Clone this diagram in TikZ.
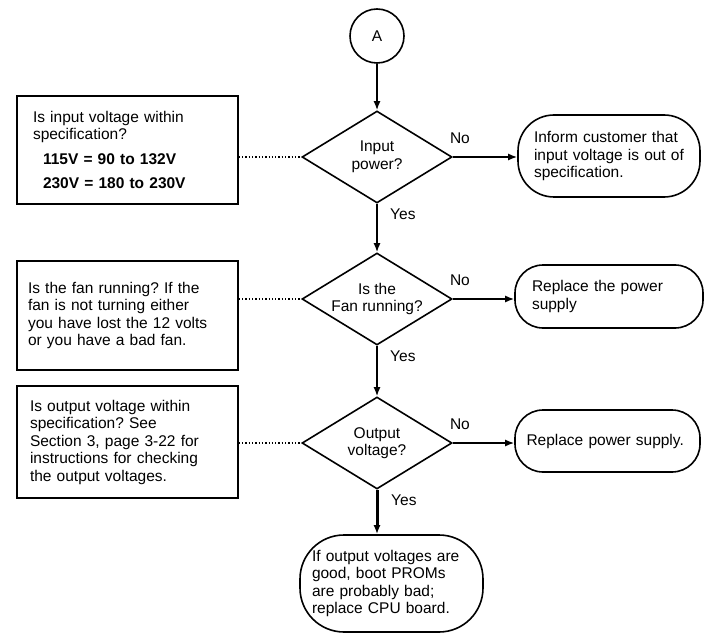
\documentclass[tikz,border=0pt]{standalone}
\usepackage{fontspec}
\setmainfont{Liberation Sans}
\usetikzlibrary{shapes.geometric,arrows.meta}

\begin{document}
\begin{tikzpicture}[
    x=1pt, y=-1pt,
    every node/.style={font=\fontsize{15.5}{17.5}\selectfont\frenchspacing},
    connector/.style={draw, circle, line width=1.6pt, minimum size=54pt,
                      inner sep=0pt},
    decision/.style={draw, diamond, line width=1.6pt, aspect=1.63,
                     inner sep=0pt, minimum width=150pt, minimum height=92pt,
                     align=center},
    notebox/.style={draw, rectangle, line width=1.6pt, minimum width=221pt,
                    inner xsep=0pt, align=left},
    actionbox/.style={draw, rectangle, line width=1.6pt, rounded corners=#1,
                      inner xsep=0pt, align=left},
    actionbox/.default=28pt,
    flow/.style={line width=1.6pt, -{Latex[length=9pt,width=7pt]}},
    hint/.style={line width=1.3pt, dotted},
    lbl/.style={inner sep=0pt},
]

\useasboundingbox (0,0) rectangle (704,639);

\def\mx{377}   % main column
\def\nx{127.5} % note column

% ================================================================
% CONNECTOR A
% ================================================================
\node[connector] (A) at (\mx, 36) {A};

% ================================================================
% DECISIONS
% ================================================================
\node[decision] (d1) at (\mx, 157) {Input\\power?};
\node[decision] (d2) at (\mx, 299) {Is the\\Fan running?};
\node[decision] (d3) at (\mx, 443) {Output\\voltage?};

% ================================================================
% NOTES (left column)
% ================================================================
\node[notebox, minimum height=108pt, text width=189pt] (note1) at (\nx, 150)
  {Is input voltage within\\
   specification?\\[7pt]
   \hspace*{10pt}\bfseries 115V = 90 to 132V\\[7pt]
   \hspace*{10pt}\bfseries 230V = 180 to 230V};

\node[notebox, minimum height=109pt, text width=199pt] (note2) at (\nx, 315.5)
  {Is the fan running? If the\\
   fan is not turning either\\
   you have lost the 12 volts\\
   or you have a bad fan.};

\node[notebox, minimum height=112pt, text width=195pt] (note3) at (\nx, 442)
  {Is output voltage within\\
   specification? See\\
   Section 3, page 3-22 for\\
   instructions for checking\\
   the output voltages.};

% ================================================================
% ACTIONS (right column and bottom)
% ================================================================
\node[actionbox=36pt, minimum width=182pt, minimum height=82pt,
      text width=150pt] (act1) at (609, 156)
  {Inform customer that\\
   input voltage is out of\\
   specification.};

\node[actionbox, minimum width=188pt, minimum height=63pt,
      text width=154pt] (act2) at (609, 296.5)
  {Replace the power\\supply};

\node[actionbox, minimum width=185pt, minimum height=62pt,
      text width=162pt] (act3) at (607.5, 441)
  {Replace power supply.};

\node[actionbox=44pt, minimum width=183pt, minimum height=97pt,
      text width=159pt] (fin) at (391.5, 583.5)
  {If output voltages are\\
   good, boot PROMs\\
   are probably bad;\\
   replace CPU board.};

% ================================================================
% FLOW LINES
% ================================================================
\draw[flow] (A.south) -- (d1.north);
\draw[flow] (d1.south) -- (d2.north);
\draw[flow] (d2.south) -- (d3.north);
\draw[flow, line width=3pt] (d3.south) -- (d3.south |- fin.north);

\draw[flow] (d1.east) -- (d1.east -| act1.west);
\draw[flow] (d2.east) -- (d2.east -| act2.west);
\draw[flow] (d3.east) -- (d3.east -| act3.west);

% dotted links from the notes
\draw[hint] (note1.east |- d1.west) -- (d1.west);
\draw[hint] (note2.east |- d2.west) -- (d2.west);
\draw[hint] (note3.east |- d3.west) -- (d3.west);

% ================================================================
% BRANCH LABELS
% ================================================================
\node[lbl, anchor=south west] (no1) at ([xshift=-3pt, yshift=13pt]d1.east) {No};
\node[lbl, anchor=south west] (no2) at ([xshift=-3pt, yshift=13pt]d2.east) {No};
\node[lbl, anchor=south west] (no3) at ([xshift=-3pt, yshift=13pt]d3.east) {No};

\node[lbl, anchor=west] (yes1) at ([xshift=13pt, yshift=-10pt]d1.south) {Yes};
\node[lbl, anchor=west] (yes2) at ([xshift=13pt, yshift=-10pt]d2.south) {Yes};
\node[lbl, anchor=west] (yes3) at ([xshift=14pt, yshift=-10pt]d3.south) {Yes};

\end{tikzpicture}
\end{document}
